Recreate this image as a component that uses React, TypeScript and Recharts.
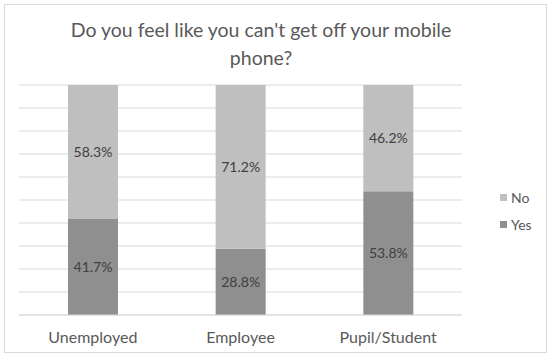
import { BarChart, Bar, XAxis, YAxis, CartesianGrid, LabelList } from "recharts";

const categories = ["Unemployed", "Employee", "Pupil/Student"];
const yesValues = [41.7, 28.8, 53.8];
const noValues = [58.3, 71.2, 46.2];
const yTicks = [0, 10, 20, 30, 40, 50, 60, 70, 80, 90, 100];

const FONT = "Lato, 'Open Sans', sans-serif";
const YES_COLOR = "#8f8f8f";
const NO_COLOR = "#bfbfbf";

const data = categories.map((name, i) => ({
  name,
  Yes: yesValues[i],
  No: noValues[i],
}));

const pct = (v: any) => `${Number(v).toFixed(1)}%`;

function LegendBox() {
  const items = [
    { label: "No", color: NO_COLOR },
    { label: "Yes", color: YES_COLOR },
  ];
  return (
    <div
      style={{
        position: "absolute",
        left: 500,
        top: 184,
        fontFamily: FONT,
        fontSize: 14,
        color: "#595959",
      }}
    >
      {items.map((it) => (
        <div key={it.label} style={{ display: "flex", alignItems: "center", height: 27 }}>
          <span style={{ width: 7, height: 7, background: it.color, marginRight: 4 }} />
          {it.label}
        </div>
      ))}
    </div>
  );
}

export default function App() {
  return (
    <div style={{ position: "absolute", left: 0, top: 0, width: 550, height: 356, background: "#fff" }}>
      <div
        style={{
          position: "absolute",
          left: 4,
          top: 4,
          width: 541,
          height: 347,
          border: "1px solid #d9d9d9",
        }}
      />
      <div
        style={{
          position: "absolute",
          left: 0,
          width: 522,
          top: 16,
          textAlign: "center",
          fontFamily: FONT,
          fontSize: 19.5,
          lineHeight: "28px",
          color: "#595959",
        }}
      >
        Do you feel like you can't get off your mobile
        <br />
        phone?
      </div>
      <BarChart
        width={550}
        height={356}
        data={data}
        margin={{ top: 85, right: 88, bottom: 0, left: 19 }}
        barSize={50}
        style={{ position: "absolute", left: 0, top: 0 }}
      >
        <CartesianGrid vertical={false} stroke="#d9d9d9" />
        <YAxis hide domain={[0, 100]} ticks={yTicks} />
        <XAxis
          dataKey="name"
          height={41}
          axisLine={{ stroke: "#d9d9d9" }}
          tickLine={false}
          tick={{ fontFamily: FONT, fontSize: 16, fill: "#595959", dy: 9 }}
        />
        <Bar dataKey="Yes" stackId="a" fill={YES_COLOR} isAnimationActive={false}>
          <LabelList dataKey="Yes" position="center" formatter={pct} style={{ fontFamily: FONT, fontSize: 14, fill: "#404040" }} />
        </Bar>
        <Bar dataKey="No" stackId="a" fill={NO_COLOR} isAnimationActive={false}>
          <LabelList dataKey="No" position="center" formatter={pct} style={{ fontFamily: FONT, fontSize: 14, fill: "#404040" }} />
        </Bar>
      </BarChart>
      <LegendBox />
    </div>
  );
}
